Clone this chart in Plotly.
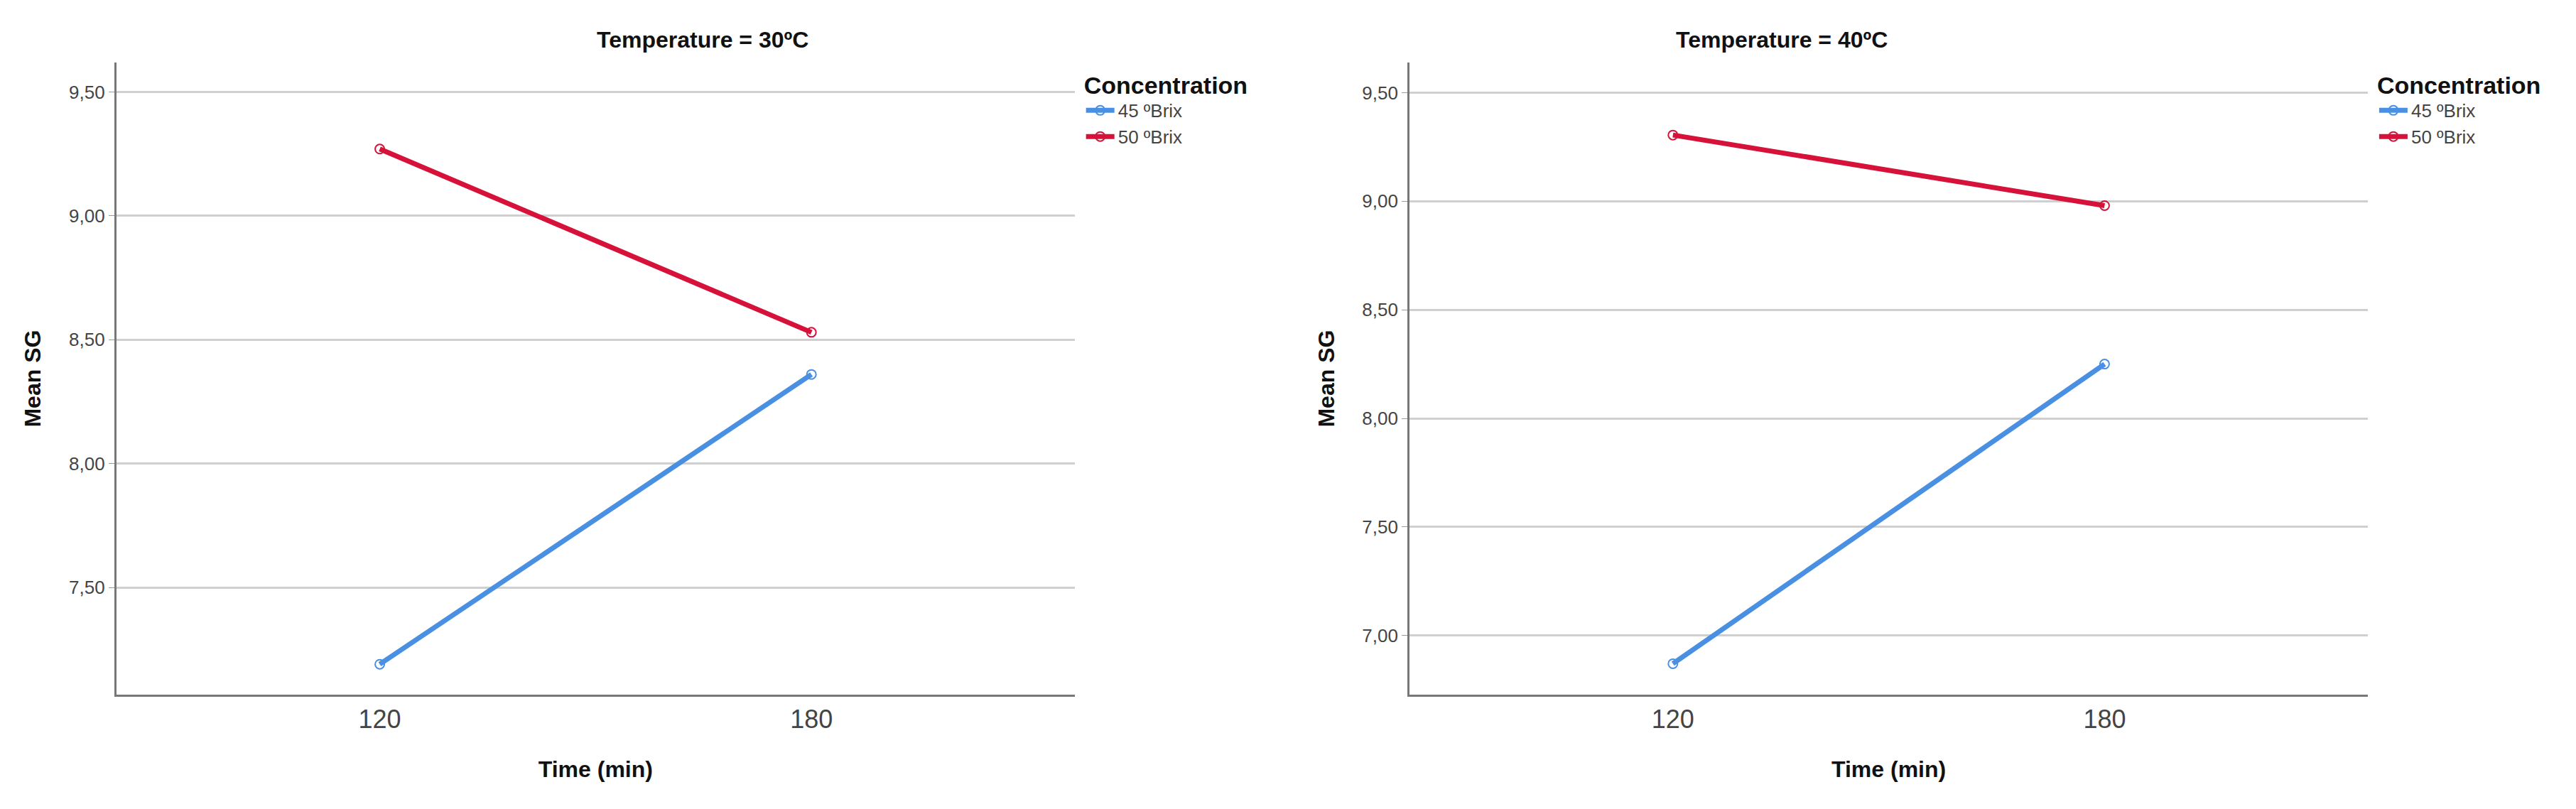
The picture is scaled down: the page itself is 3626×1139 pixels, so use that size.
import plotly.graph_objects as go

times = ["120", "180"]
series_names = ["45 ºBrix", "50 ºBrix"]
t30_45 = [7.19, 8.36]
t30_50 = [9.27, 8.53]
t40_45 = [6.87, 8.25]
t40_50 = [9.305, 8.98]
colors = ["#4a90e2", "#d6113a"]

fig = go.Figure()
def add(x, y, name, color, xa, ya, leg):
    fig.add_trace(go.Scatter(x=x, y=y, name=name, mode="lines+markers",
        line=dict(color=color, width=7),
        marker=dict(symbol="circle-open", size=13, color=color, line=dict(width=2)),
        xaxis=xa, yaxis=ya, legend=leg))
add(times, t30_45, series_names[0], colors[0], "x", "y", "legend")
add(times, t30_50, series_names[1], colors[1], "x", "y", "legend")
add(times, t40_45, series_names[0], colors[0], "x2", "y2", "legend2")
add(times, t40_50, series_names[1], colors[1], "x2", "y2", "legend2")

xcommon = dict(type="category", range=[-0.61, 1.61], showgrid=False, showline=True,
               linecolor="#777", linewidth=3, ticks="", tickfont=dict(size=36, family="Arial", color="#444"),
               title=dict(text="<b>Time (min)</b>", font=dict(size=32, family="Arial", color="#111"), standoff=40))
ycommon = dict(showgrid=True, gridcolor="#cfcfcf", gridwidth=3, showline=True, linecolor="#777",
               linewidth=3, ticks="outside", ticklen=8, tickcolor="#999", tickformat=".2f",
               tickfont=dict(size=26, family="Arial", color="#444"), zeroline=False,
               title=dict(text="<b>Mean SG</b>", font=dict(size=32, family="Arial", color="#111"), standoff=30))

legcommon = dict(font=dict(size=26, family="Arial", color="#444"), yanchor="top", xanchor="left",
                 title=dict(text="<b>Concentration</b>", font=dict(size=34, family="Arial", color="#111")),
                 bgcolor="rgba(0,0,0,0)", tracegroupgap=0, itemwidth=40)
fig.update_layout(
    width=3626, height=1139, plot_bgcolor="white", paper_bgcolor="white",
    margin=dict(l=0, r=0, t=0, b=0), separators=", ",
    xaxis=dict(domain=[0.043, 0.415], anchor="y", **xcommon),
    xaxis2=dict(domain=[0.545, 0.917], anchor="y2", **xcommon),
    yaxis=dict(domain=[0.148, 0.93], range=[7.066, 9.62], tickvals=[7.5, 8, 8.5, 9, 9.5], anchor="x", **ycommon),
    yaxis2=dict(domain=[0.148, 0.93], range=[6.726, 9.64], tickvals=[7, 7.5, 8, 8.5, 9, 9.5], anchor="x2", **ycommon),
    legend=dict(x=0.418, y=0.93, **legcommon),
    legend2=dict(x=0.92, y=0.93, **legcommon),
    annotations=[
        dict(text="<b>Temperature = 30ºC</b>", x=0.229, y=0.975, xref="paper", yref="paper",
             showarrow=False, yanchor="top", font=dict(size=32, family="Arial", color="#111")),
        dict(text="<b>Temperature = 40ºC</b>", x=0.731, y=0.975, xref="paper", yref="paper",
             showarrow=False, yanchor="top", font=dict(size=32, family="Arial", color="#111")),
    ],
)
fig.write_html("out.html")
